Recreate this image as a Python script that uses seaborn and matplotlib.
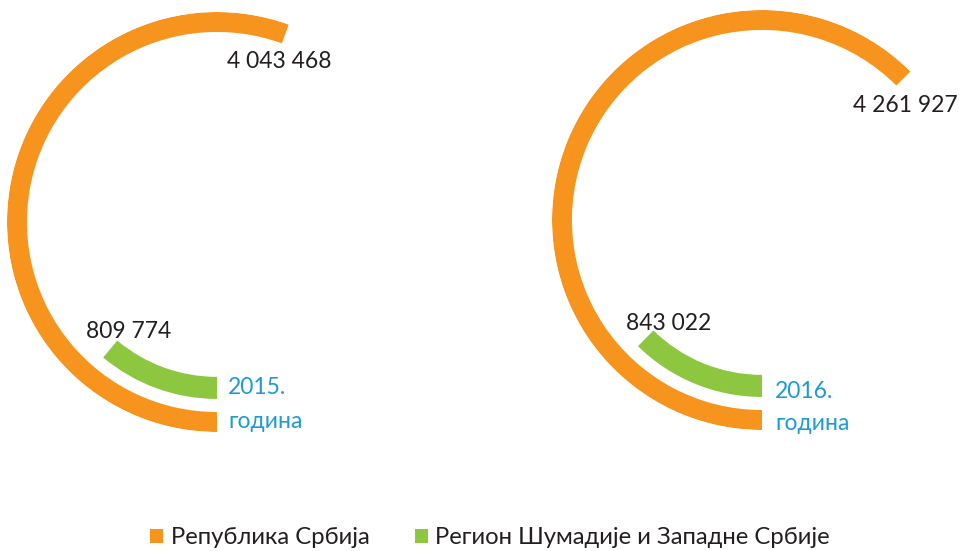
import numpy as np
import pandas as pd
import matplotlib
matplotlib.use("Agg")
import matplotlib.pyplot as plt
from matplotlib.patches import Patch
import seaborn as sns

# Population counts per year
years = ["2015.", "2016."]
serbia = [4043468, 4261927]
region = [809774, 843022]
series_names = ["Република Србија", "Регион Шумадије и Западне Србије"]
year_word = "година"
# value that corresponds to one full turn of the ring in each panel
full_turn = [7_280_000, 6_820_000]

sns.set_theme(style="white")
plt.rcParams["font.family"] = ["Lato", "DejaVu Sans"]
palette = {"serbia": "#F7941D", "region": "#8DC63F"}
text_dark = "#231F20"
text_blue = "#1E9AD6"

df = pd.DataFrame({"year": years, "serbia": serbia, "region": region,
                   "full": full_turn})

W, H = 963, 551
fig = plt.figure(figsize=(W / 100, H / 100), dpi=100)

# panel centres and radius in pixels
centres = [(217, 222), (762, 220)]
R = 210

def fmt(v):
    return f"{v:,}".replace(",", " ")

label_pos = [
    {"big": (227, 62), "small": (86, 332), "year": (228, 388), "word": (228, 422)},
    {"big": (853, 106), "small": (626, 323), "year": (775, 392), "word": (775, 423)},
]

for i, row in df.iterrows():
    cx, cy = centres[i]
    ax = fig.add_axes([(cx - R) / W, (H - cy - R) / H, 2 * R / W, 2 * R / H],
                      projection="polar")
    ax.set_theta_zero_location("S")
    ax.set_theta_direction(-1)
    ax.set_ylim(0, 1)
    ax.set_axis_off()

    to_rad = lambda v: v / row["full"] * 2 * np.pi
    # outer ring: whole country, inner ring: the region
    ax.barh(0.9525, to_rad(row["serbia"]), left=0, height=0.095,
            color=palette["serbia"], edgecolor="none")
    ax.barh(0.79, to_rad(row["region"]), left=0, height=0.105,
            color=palette["region"], edgecolor="none")

    lp = label_pos[i]
    fig.text(lp["big"][0] / W, 1 - lp["big"][1] / H, fmt(row["serbia"]),
             fontsize=16.5, color=text_dark, ha="left", va="center")
    fig.text(lp["small"][0] / W, 1 - lp["small"][1] / H, fmt(row["region"]),
             fontsize=16.5, color=text_dark, ha="left", va="center")
    fig.text(lp["year"][0] / W, 1 - lp["year"][1] / H, row["year"],
             fontsize=16.5, color=text_blue, ha="left", va="center")
    fig.text(lp["word"][0] / W, 1 - lp["word"][1] / H, year_word,
             fontsize=16.5, color=text_blue, ha="left", va="center")

handles = [Patch(facecolor=palette["serbia"], edgecolor="none"),
           Patch(facecolor=palette["region"], edgecolor="none")]
fig.legend(handles, series_names, loc="center", bbox_to_anchor=(490 / W, 1 - 538 / H),
           ncol=2, frameon=False, fontsize=17.2, handlelength=0.55, handleheight=0.55,
           handletextpad=0.3, columnspacing=1.9, labelcolor=text_dark)

fig.savefig("out.png", dpi=100)
